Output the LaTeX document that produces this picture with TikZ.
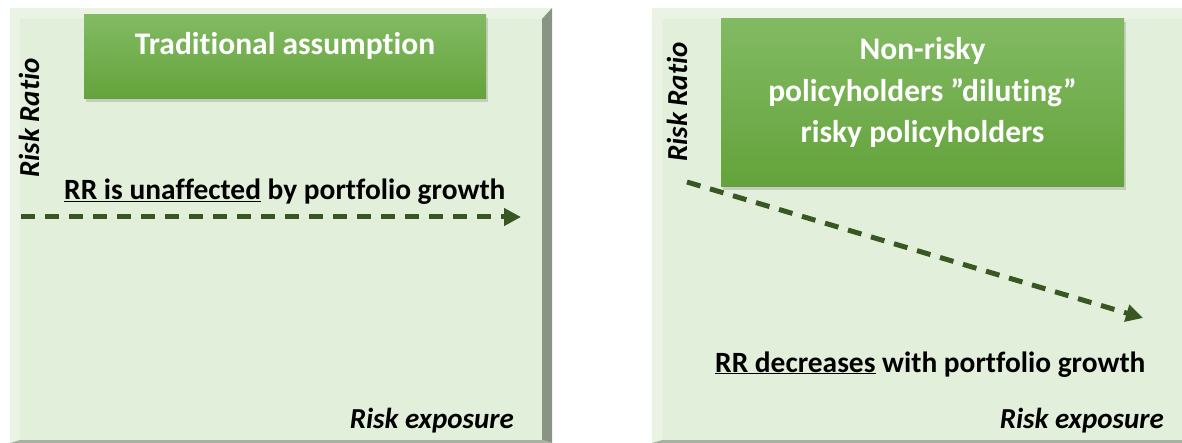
\documentclass[tikz,border=0pt]{standalone}
\usepackage{fontspec}
\setmainfont{Carlito}[Ligatures=NoCommon]
\usetikzlibrary{positioning,arrows.meta,shadows}

\definecolor{panelfill}{HTML}{E2EFDA}
\definecolor{panellight}{HTML}{EBF4E4}
\definecolor{paneldark}{HTML}{8A9484}
\definecolor{panelbottom}{HTML}{A9B2A2}
\definecolor{boxtop}{HTML}{82BA63}
\definecolor{boxbottom}{HTML}{64A33B}
\definecolor{arrowgreen}{HTML}{385723}

\begin{document}
\begin{tikzpicture}[x=1pt,y=-1pt,
    greenbox/.style={rectangle,inner sep=0pt,top color=boxtop,bottom color=boxbottom,
        drop shadow={opacity=0.3,shadow xshift=2pt,shadow yshift=-3pt}},
    boxtext/.style={text=white,font=\fontsize{31.5}{41.5}\selectfont\bfseries,
        align=center,inner sep=0pt},
    axistext/.style={font=\fontsize{29}{35}\selectfont\bfseries\itshape,inner sep=0pt},
    growthtext/.style={font=\fontsize{29.4}{35}\selectfont\bfseries,inner sep=0pt},
    rrline/.style={arrowgreen,line width=5pt,dash pattern=on 14pt off 10pt,
        -{Triangle[length=17pt,width=17pt]}}
  ]
  \useasboundingbox (0,0) rectangle (1182,443);

  % Left panel: traditional assumption
  \fill[panelfill] (20,19) rectangle (542,440);
  \fill[panellight] (10,8) -- (552,8) -- (542,19) -- (20,19) -- (20,440) -- (10,443) -- cycle;
  \fill[paneldark] (552,8) -- (552,443) -- (542,440) -- (542,19) -- cycle;
  \fill[panelbottom] (10,443) -- (20,440) -- (542,440) -- (552,443) -- cycle;

  \node[greenbox,minimum width=402pt,minimum height=84pt] (lbox) at (285,57) {};
  \node[boxtext,anchor=base] (ltitle) at (285,55) {Traditional assumption};

  \node[axistext,rotate=90,anchor=base] (lratio) at (39,118) {Risk Ratio};
  \node[axistext,anchor=base east] (lexposure) at (514,428) {Risk exposure};
  \node[growthtext,anchor=base west] (lgrowth) at (64,200)
    {\underline{RR is unaffected} by portfolio growth};

  \coordinate (lstart) at (21,217);
  \coordinate (lend) at (521,217);
  \draw[rrline] (lstart) -- (lend);

  % Right panel: dilution
  \fill[panelfill] (662,19) rectangle (1182,440);
  \fill[panellight] (652,8) -- (1182,8) -- (1182,19) -- (662,19) -- (662,440) -- (652,443) -- cycle;
  \fill[panelbottom] (652,443) -- (662,440) -- (1182,440) -- (1182,443) -- cycle;

  \node[greenbox,minimum width=403pt,minimum height=168pt] (rbox) at (922.5,103) {};
  \node[boxtext,anchor=base] (rtitle) at (922.5,143)
    {Non-risky\\policyholders ”diluting”\\risky policyholders};

  \node[axistext,rotate=90,anchor=base] (rratio) at (687,102) {Risk Ratio};
  \node[axistext,anchor=base east] (rexposure) at (1164,428) {Risk exposure};
  \node[growthtext,anchor=base west] (rgrowth) at (715,372)
    {\underline{RR decreases} with portfolio growth};

  \coordinate (rstart) at (687,182);
  \coordinate (rend) at (1143,318);
  \draw[rrline] (rstart) -- (rend);
\end{tikzpicture}
\end{document}
